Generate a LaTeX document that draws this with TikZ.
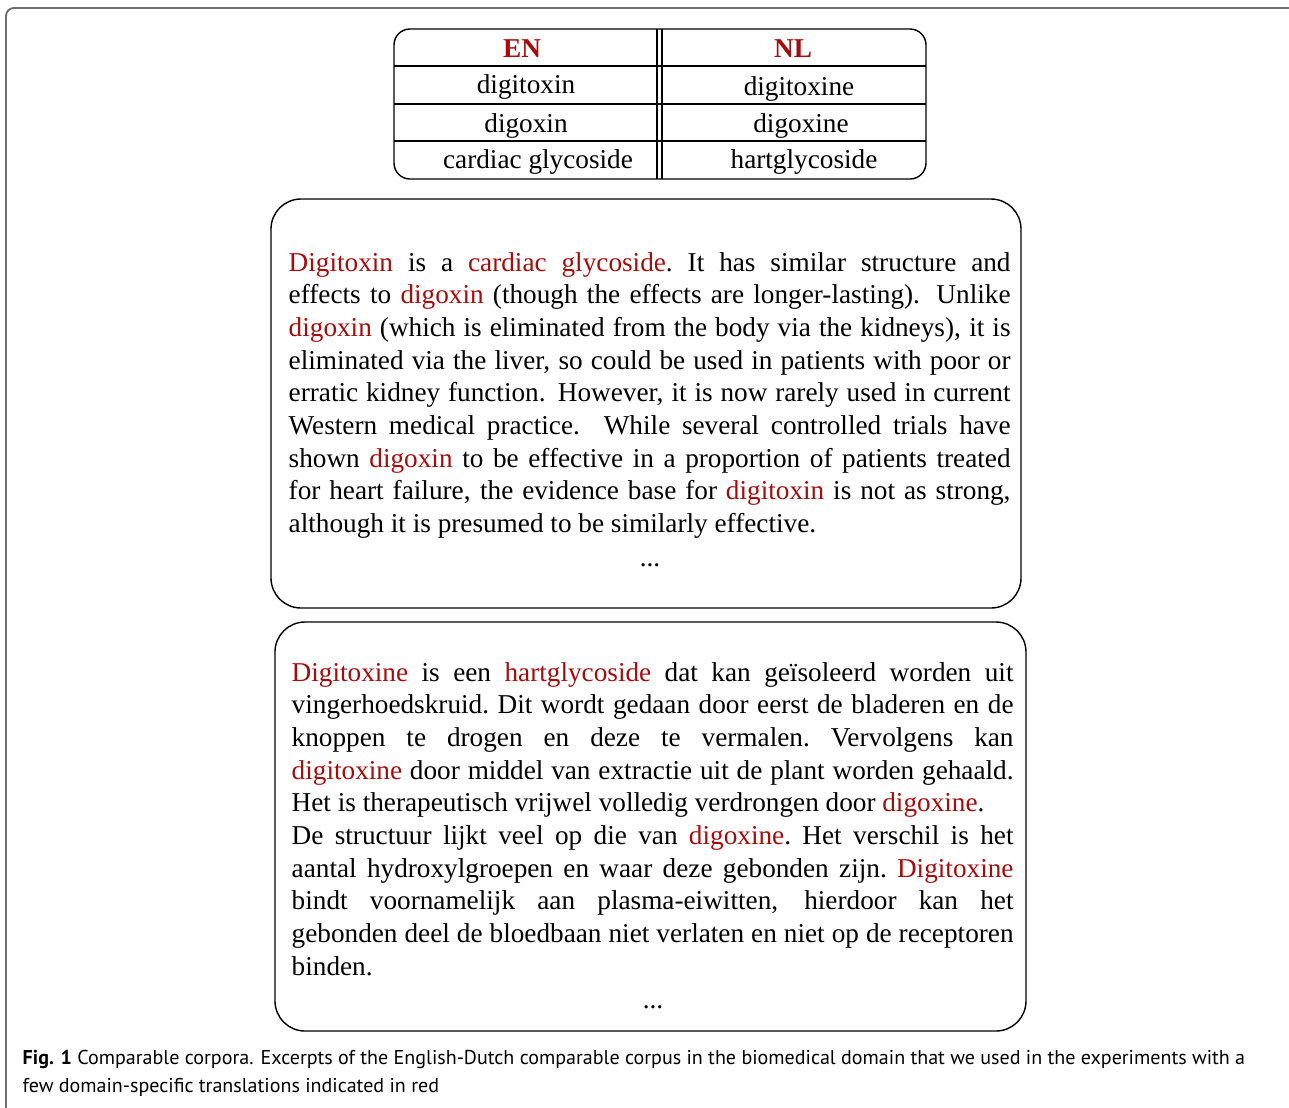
\documentclass[tikz,border=0pt]{standalone}
\usepackage{fontspec}
\setmainfont{Liberation Serif}
\newfontfamily\capfont{PT Sans}
\usetikzlibrary{positioning}
\definecolor{termred}{RGB}{165,12,12}
\definecolor{framegray}{RGB}{110,110,110}
\newcommand{\term}[1]{\textcolor{termred}{#1}}

\begin{document}
\begin{tikzpicture}[x=0.02cm,y=-0.02cm,line width=0.8pt]
  \tikzstyle{every node}=[inner sep=0pt,font=\fontsize{15.5}{18.6}\selectfont]
  \tikzstyle{cell}=[anchor=base]
  \tikzstyle{excerpt}=[anchor=base west,text width=14.44cm,align=justify]
  \tikzstyle{corpus}=[rounded corners=0.6cm]

  \useasboundingbox (0,0) rectangle (1289,1107);
  % figure frame
  \draw[framegray,line width=1.1pt,rounded corners=0.16cm] (6,8) rectangle (1310,1130);

  % term table
  \draw[rounded corners=0.32cm] (394,29) rectangle (926,179);
  \draw (394,66) -- (926,66) (394,104) -- (926,104) (394,141) -- (926,141);
  \draw (657,29) -- (657,179) (662,29) -- (662,179);
  \node[cell] (EN)   at (522,57)  {\textbf{\term{EN}}};
  \node[cell] (NL)   at (793,57)  {\textbf{\term{NL}}};
  \node[cell] (enA)  at (526,93)  {digitoxin};
  \node[cell] (nlA)  at (799,95)  {digitoxine};
  \node[cell] (enB)  at (526,132) {digoxin};
  \node[cell] (nlB)  at (801,132) {digoxine};
  \node[cell] (enC)  at (538,168) {cardiac glycoside};
  \node[cell] (nlC)  at (804,168) {hartglycoside};

  % english excerpt
  \draw[corpus] (271,199) rectangle (1021,608);
  \node[excerpt] (enText) at (288,271) {\term{Digitoxin} is a \term{cardiac glycoside}.\ It has similar structure and\linebreak
    effects to \term{digoxin} (though the effects are longer-lasting). Unlike\linebreak
    \term{digoxin} (which is eliminated from the body via the kidneys), it is\linebreak
    eliminated via the liver, so could be used in patients with poor or\linebreak
    erratic kidney function. However, it is now rarely used in current\linebreak
    Western medical practice. While several controlled trials have\linebreak
    shown \term{digoxin} to be effective in a proportion of patients treated\linebreak
    for heart failure, the evidence base for \term{digitoxin} is not as strong,\linebreak
    although it is presumed to be similarly effective.};
  \node[cell] (enDots) at (650,566) {...};

  % dutch excerpt
  \draw[corpus] (275,622) rectangle (1026,1031);
  \node[excerpt] (nlText) at (291,681) {\term{Digitoxine} is een \term{hartglycoside} dat kan geïsoleerd worden uit\linebreak
    vingerhoedskruid.\ Dit wordt gedaan door eerst de bladeren en de\linebreak
    knoppen te drogen en deze te vermalen.\ Vervolgens kan\linebreak
    \term{digitoxine} door middel van extractie uit de plant worden gehaald.\linebreak
    Het is therapeutisch vrijwel volledig verdrongen door \term{digoxine}.\\
    De structuur lijkt veel op die van \term{digoxine}.\ Het verschil is het\linebreak
    aantal hydroxylgroepen en waar deze gebonden zijn.\ \term{Digitoxine}\linebreak
    bindt voornamelijk aan plasma-eiwitten, hierdoor kan het\linebreak
    gebonden deel de bloedbaan niet verlaten en niet op de receptoren\linebreak
    binden.};
  \node[cell] (nlDots) at (653,1008) {...};

  % caption
  \node[anchor=base west,align=left,font=\capfont\fontsize{11.4}{15.4}\selectfont] (caption) at (22,1092)
    {\textbf{Fig. 1} Comparable corpora. Excerpts of the English-Dutch comparable corpus in the biomedical domain that we used in the experiments with a\\
     few domain-specific translations indicated in red};
\end{tikzpicture}
\end{document}
